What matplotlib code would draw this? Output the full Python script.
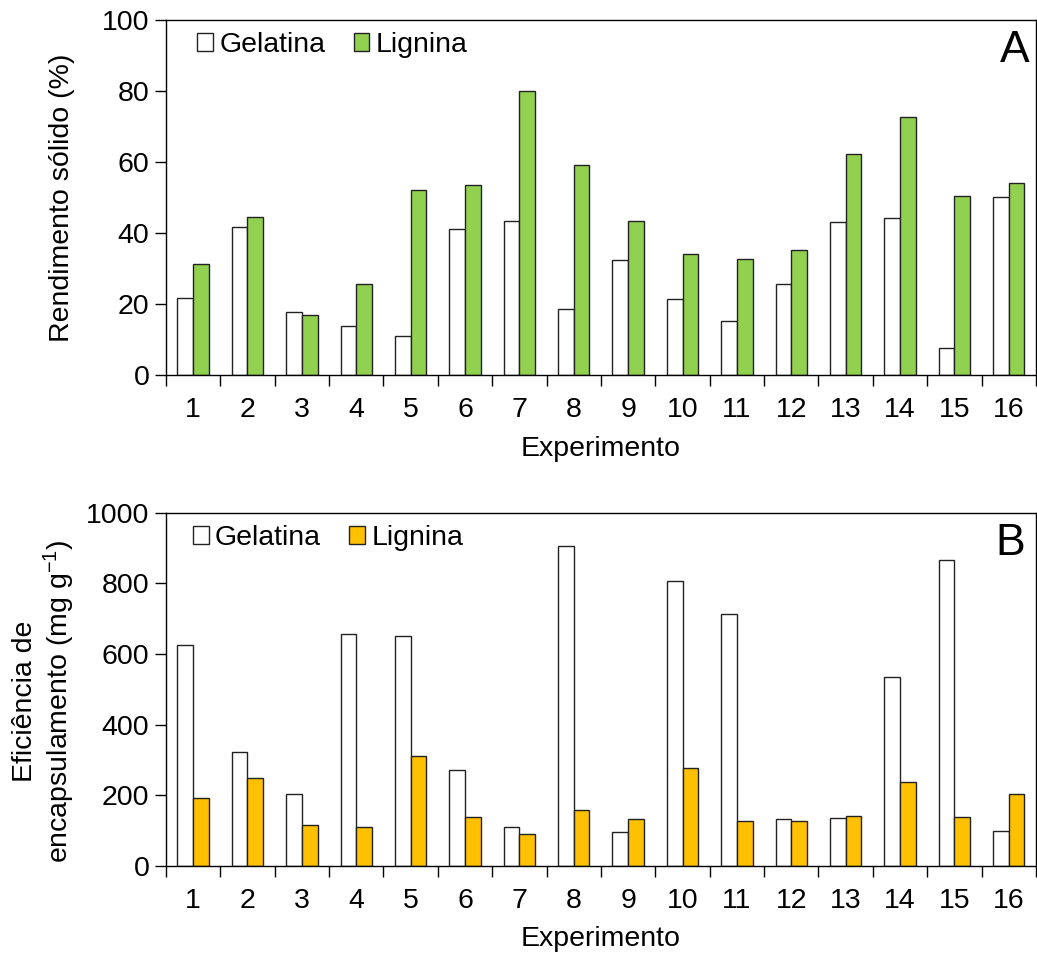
import numpy as np
import matplotlib
matplotlib.use("Agg")
import matplotlib.pyplot as plt

plt.rcParams['font.family'] = ['Liberation Sans', 'DejaVu Sans']
plt.rcParams['mathtext.fontset'] = 'custom'
plt.rcParams['mathtext.rm'] = 'Liberation Sans'
plt.rcParams['mathtext.it'] = 'Liberation Sans'
plt.rcParams['axes.linewidth'] = 1.0

# Data
experimentos = list(range(1, 17))

rend_gelatina = [21.8, 41.8, 17.7, 13.8, 11.1, 41.2, 43.4, 18.6,
                 32.5, 21.3, 15.2, 25.7, 43.0, 44.3, 7.7, 50.1]
rend_lignina = [31.3, 44.6, 17.0, 25.7, 52.2, 53.4, 80.0, 59.2,
                43.5, 34.0, 32.8, 35.1, 62.4, 72.8, 50.5, 54.2]

efic_gelatina = [624, 323, 204, 656, 650, 270, 110, 905,
                 95, 807, 713, 132, 136, 535, 865, 99]
efic_lignina = [191, 249, 116, 111, 311, 139, 89, 157,
                133, 278, 127, 126, 140, 237, 139, 202]

fs = 20.5
w = 0.288
x = np.array(experimentos)

fig = plt.figure(figsize=(10.37, 9.55), dpi=100)
ax1 = fig.add_axes([0.160, 0.6073, 0.839, 0.3717])
ax2 = fig.add_axes([0.160, 0.0935, 0.839, 0.3696])


def draw_panel(ax, gel, lig, color, ymax, step, ylabel, letter, label_xy, leg_xy):
    ax.bar(x - w / 2, gel, w, color='white', edgecolor='#222222', linewidth=1.0, label='Gelatina')
    ax.bar(x + w / 2, lig, w, color=color, edgecolor='#222222', linewidth=1.0, label='Lignina')
    ax.set_xlim(0.5, 16.5)
    ax.set_ylim(0, ymax)
    ax.set_yticks(np.arange(0, ymax + 1, step))
    # ticks at group boundaries, labels at group centres
    ax.set_xticks(np.arange(0.5, 17, 1))
    ax.set_xticklabels([])
    ax.set_xticks(x, minor=True)
    ax.set_xticklabels([str(e) for e in experimentos], minor=True)
    ax.tick_params(axis='x', which='major', direction='out', length=8, width=1)
    ax.tick_params(axis='x', which='minor', length=0, pad=16, labelsize=fs)
    ax.tick_params(axis='y', direction='out', length=8, width=1, labelsize=fs, pad=4)
    ax.set_xlabel('Experimento', fontsize=fs, labelpad=9)
    ax.set_ylabel(ylabel, fontsize=fs, linespacing=1.15, va='center')
    ax.yaxis.set_label_coords(*label_xy)
    ax.text(*letter[1], letter[0], transform=ax.transAxes, ha='right', va='center', fontsize=32)
    ax.legend(loc='upper left', bbox_to_anchor=leg_xy, ncol=2, frameon=False,
              fontsize=fs, handlelength=0.55, handleheight=0.55,
              handletextpad=0.22, columnspacing=1.0, borderpad=0, borderaxespad=0)


draw_panel(ax1, rend_gelatina, rend_lignina, '#92D050', 100, 20,
           'Rendimento sólido (%)', ('A', (0.993, 0.913)), (-0.120, 0.5), (0.036, 0.966))
draw_panel(ax2, efic_gelatina, efic_lignina, '#FFC000', 1000, 200,
           'Eficiência de\nencapsulamento (mg g$^{-1}$)', ('B', (0.987, 0.914)),
           (-0.140, 0.467), (0.031, 0.965))

fig.savefig('out.png', dpi=100)
